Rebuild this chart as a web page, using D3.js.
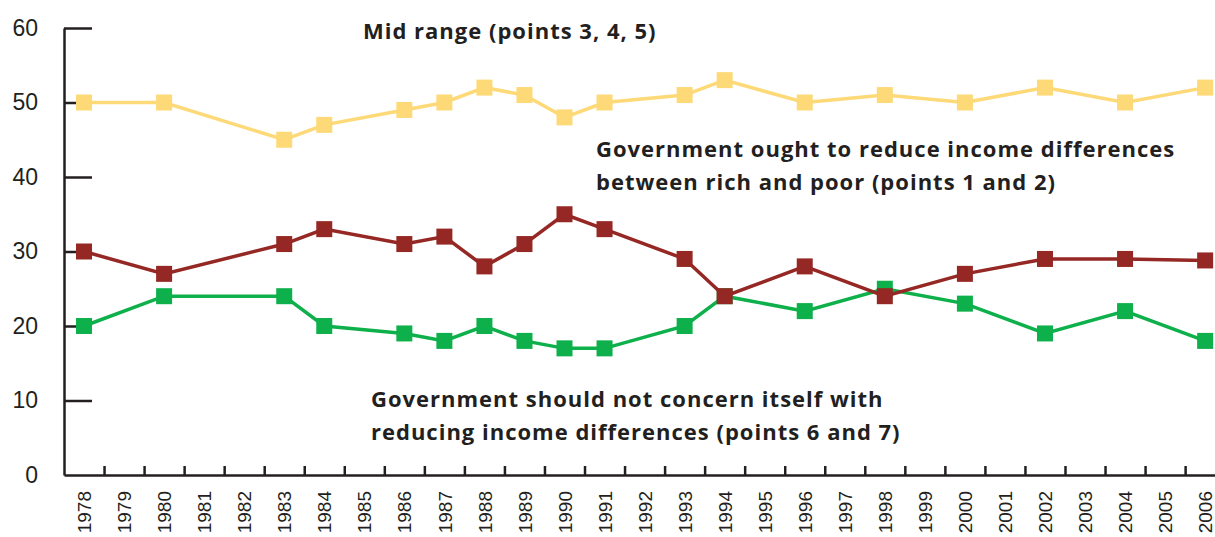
<!DOCTYPE html>
<head>
<meta charset="utf-8">
<title>Income differences</title>
<style>
body { margin: 0; background: #fff; }
.axis text { font-family: "Liberation Sans", Arial, sans-serif; fill: #231f20; }
.axis path, .axis line { stroke: #231f20; stroke-width: 2.5; }
.note { font-family: "Open Sans", sans-serif; font-weight: bold; font-size: 22px; letter-spacing: 1px; fill: #231f20; }
</style>
<script src="https://cdn.jsdelivr.net/npm/d3@7"></script>
</head>
<body>
<script>
// survey years and the three series (percent)
var years   = [1978,1980,1983,1984,1986,1987,1988,1989,1990,1991,1993,1994,1996,1998,2000,2002,2004,2006];
var midRange = [50,50,45,47,49,50,52,51,48,50,51,53,50,51,50,52,50,52];
var reduce   = [30,27,31,33,31,32,28,31,35,33,29,24,28,24,27,29,29,28.8];
var notConcern = [20,24,24,20,19,18,20,18,17,17,20,24,22,25,23,19,22,18];
var allYears = d3.range(1978, 2007);
var yTicks = [0,10,20,30,40,50,60];

var W = 1215, H = 537;
var svg = d3.select("body").append("svg").attr("width", W).attr("height", H);

var x = d3.scaleLinear().domain([1977.5, 2006.5]).range([64, 64 + 29*40.04]);
var y = d3.scaleLinear().domain([0, 60]).range([475, 28]);

// y axis, ticks pointing into the plot
svg.append("g").attr("class","axis").attr("transform","translate(64,0)")
  .call(d3.axisLeft(y).tickValues(yTicks).tickSize(-28).tickSizeOuter(0).tickPadding(26))
  .call(function(g){ g.selectAll("text").style("font-size","23px"); g.selectAll(".tick").filter(function(d){return d==0;}).select("line").remove(); });

// x axis line with small ticks between years
svg.append("g").attr("class","axis").attr("transform","translate(0,475)")
  .call(d3.axisTop(x).tickValues(allYears.map(function(d){return d+0.5;})).tickSize(9).tickSizeOuter(0).tickFormat(""));

// rotated year labels
svg.append("g").attr("class","axis").attr("transform","translate(0,475)")
  .call(d3.axisBottom(x).tickValues(allYears).tickSize(0).tickFormat(d3.format("d")))
  .call(function(g){
    g.select(".domain").remove();
    g.selectAll("text").style("font-size","19px")
      .attr("transform","rotate(-90)").attr("x",-16).attr("y",0).attr("dy","0.35em")
      .style("text-anchor","end");
  });

function series(vals, color) {
  var pts = years.map(function(d,i){ return [d, vals[i]]; });
  var line = d3.line().x(function(d){return x(d[0]);}).y(function(d){return y(d[1]);});
  svg.append("path").datum(pts).attr("d", line)
    .attr("fill","none").attr("stroke",color).attr("stroke-width",3.5);
  svg.selectAll(null).data(pts).enter().append("rect")
    .attr("x", function(d){return x(d[0]) - 8;})
    .attr("y", function(d){return y(d[1]) - 8;})
    .attr("width",16).attr("height",16).attr("fill",color);
}
series(midRange, "#fdd977");
series(notConcern, "#0db04b");
series(reduce, "#952824");

svg.append("text").attr("class","note").attr("x",363).attr("y",39).text("Mid range (points 3, 4, 5)");
svg.append("text").attr("class","note").attr("x",596).attr("y",157).text("Government ought to reduce income differences");
svg.append("text").attr("class","note").attr("x",596).attr("y",190).text("between rich and poor (points 1 and 2)");
svg.append("text").attr("class","note").attr("x",371).attr("y",407).text("Government should not concern itself with");
svg.append("text").attr("class","note").attr("x",371).attr("y",440).text("reducing income differences (points 6 and 7)");
</script>
</body>
